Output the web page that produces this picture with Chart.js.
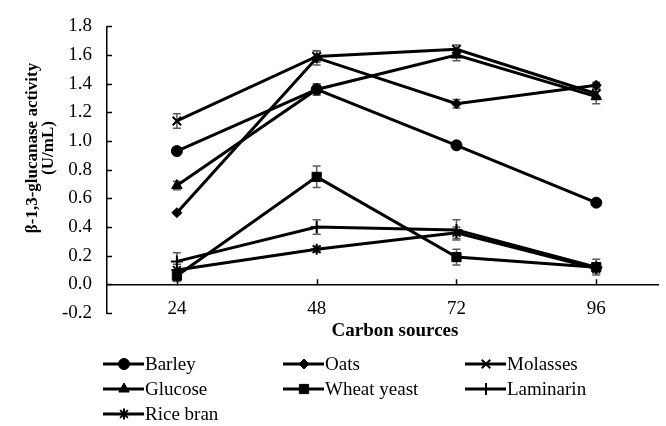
<!DOCTYPE html>
<html>
<head>
<meta charset="utf-8">
<script src="https://cdn.jsdelivr.net/npm/chart.js@4.4.1/dist/chart.umd.min.js"></script>
<style>
    html, body { margin: 0; padding: 0; background: #fff; overflow: hidden; }
    #mon-canvas { position: relative; width: 666px; height: 426px; }
</style>
</head>
<body>
<div id="mon-canvas"><canvas id="myChart"></canvas></div>
<script>
//les variables (heures)
var heures = [24, 48, 72, 96];
var xTicks = [24, 48, 72, 96];
var yMin = -0.2, yMax = 1.8, yPas = 0.2;

var noms = ['Barley', 'Oats', 'Molasses', 'Glucose', 'Wheat yeast', 'Laminarin', 'Rice bran'];
var barley = [0.93, 1.36, 0.97, 0.57];
var oats = [0.50, 1.58, 1.26, 1.39];
var molasses = [1.14, 1.59, 1.64, 1.33];
var glucose = [0.69, 1.36, 1.60, 1.31];
var wheatYeast = [0.06, 0.75, 0.19, 0.12];
var laminarin = [0.16, 0.40, 0.38, 0.12];
var riceBran = [0.10, 0.245, 0.36, 0.11];

//les erreurs
var errBarley = [0.02, 0.03, 0.02, 0.02];
var errOats = [0.01, 0.05, 0.03, 0.02];
var errMolasses = [0.05, 0.04, 0.03, 0.04];
var errGlucose = [0.03, 0.04, 0.04, 0.05];
var errWheatYeast = [0.04, 0.075, 0.055, 0.055];
var errLaminarin = [0.06, 0.05, 0.07, 0.03];
var errRiceBran = [0.04, 0.02, 0.04, 0.03];

var series = [barley, oats, molasses, glucose, wheatYeast, laminarin, riceBran];
var erreurs = [errBarley, errOats, errMolasses, errGlucose, errWheatYeast, errLaminarin, errRiceBran];
var marqueurs = ['circle', 'rectRot', 'crossRot', 'triangle', 'rect', 'cross', 'star'];
var tailles = [5.5, 5, 6, 6, 6.5, 6, 5.5];

var police = "'Liberation Serif', 'Times New Roman', serif";

//les datasets
var datasets = [];
for (var i = 0; i < noms.length; i++) {
    var points = [];
    for (var j = 0; j < heures.length; j++) {
        points.push({x: heures[j], y: series[i][j]});
    }
    datasets.push({
        label: noms[i],
        data: points,
        borderColor: '#000',
        backgroundColor: '#000',
        borderWidth: 3,
        pointStyle: marqueurs[i],
        pointRadius: tailles[i],
        pointBorderWidth: (marqueurs[i] == 'crossRot' || marqueurs[i] == 'cross' || marqueurs[i] == 'star') ? 2 : 1,
        pointBorderColor: '#000',
        pointBackgroundColor: '#000',
        tension: 0
    });
}

//barres d'erreur
var barresErreur = {
    id: 'barresErreur',
    beforeDatasetsDraw: function (chart) {
        var ctx = chart.ctx;
        var sx = chart.scales.x, sy = chart.scales.y;
        ctx.save();
        ctx.strokeStyle = '#5a5a5a';
        ctx.lineWidth = 1.5;
        for (var i = 0; i < series.length; i++) {
            for (var j = 0; j < heures.length; j++) {
                var x = sx.getPixelForValue(heures[j]);
                var haut = sy.getPixelForValue(series[i][j] + erreurs[i][j]);
                var bas = sy.getPixelForValue(series[i][j] - erreurs[i][j]);
                ctx.beginPath();
                ctx.moveTo(x, haut); ctx.lineTo(x, bas);
                ctx.moveTo(x - 4, haut); ctx.lineTo(x + 4, haut);
                ctx.moveTo(x - 4, bas); ctx.lineTo(x + 4, bas);
                ctx.stroke();
            }
        }
        ctx.restore();
    }
};

//graduations interieures, titres et legende
var habillage = {
    id: 'habillage',
    afterDraw: function (chart) {
        var ctx = chart.ctx;
        var sx = chart.scales.x, sy = chart.scales.y;
        var zone = chart.chartArea;
        var y0 = sy.getPixelForValue(0);
        ctx.save();
        ctx.strokeStyle = '#000';
        ctx.lineWidth = 1.5;
        ctx.beginPath();
        sy.ticks.forEach(function (t) {
            var y = Math.round(sy.getPixelForValue(t.value)) + 0.5;
            ctx.moveTo(zone.left, y); ctx.lineTo(zone.left + 5, y);
        });
        xTicks.forEach(function (v) {
            var x = Math.round(sx.getPixelForValue(v)) + 0.5;
            ctx.moveTo(x, y0 + 1); ctx.lineTo(x, y0 - 5);
        });
        ctx.stroke();

        //titre axe x
        ctx.fillStyle = '#000';
        ctx.font = 'bold 19px ' + police;
        ctx.textAlign = 'center';
        ctx.textBaseline = 'middle';
        ctx.fillText('Carbon sources', 395, 331);

        //titre axe y
        ctx.save();
        ctx.translate(0, 148);
        ctx.rotate(-Math.PI / 2);
        ctx.font = 'bold 17px ' + police;
        ctx.fillText('β-1,3-glucanase activity', 0, 33);
        ctx.fillText('(U/mL)', 0, 49);
        ctx.restore();

        //legende
        var colonnes = [103, 283, 465];
        var lignes = [364, 389, 414];
        ctx.font = '19px ' + police;
        ctx.textAlign = 'left';
        for (var k = 0; k < noms.length; k++) {
            var lx = colonnes[k % 3];
            var ly = lignes[Math.floor(k / 3)];
            ctx.strokeStyle = '#000';
            ctx.lineWidth = 3;
            ctx.beginPath();
            ctx.moveTo(lx, ly); ctx.lineTo(lx + 41, ly);
            ctx.stroke();
            ctx.fillStyle = '#000';
            ctx.lineWidth = datasets[k].pointBorderWidth;
            Chart.helpers.drawPoint(ctx, {
                pointStyle: marqueurs[k],
                radius: tailles[k],
                rotation: 0,
                borderWidth: datasets[k].pointBorderWidth
            }, lx + 21, ly);
            ctx.fillText(noms[k], lx + 42, ly + 1);
        }
        ctx.restore();
    }
};

var ctx = document.getElementById('myChart').getContext('2d');
var chart = new Chart(ctx, {
    type: 'line',
    data: { datasets: datasets },
    options: {
        responsive: true,
        maintainAspectRatio: false,
        animation: false,
        layout: { padding: { left: 0, right: 0, top: 16, bottom: 113 } },
        plugins: {
            legend: { display: false },
            tooltip: { enabled: false }
        },
        scales: {
            x: {
                type: 'linear',
                position: { y: 0 },
                min: 12,
                max: 106.6,
                afterBuildTicks: function (scale) {
                    scale.ticks = xTicks.map(function (v) { return {value: v}; });
                },
                afterFit: function (scale) { scale.height = 0; },
                grid: { display: false, drawTicks: false },
                border: { display: true, color: '#000', width: 1.5 },
                ticks: {
                    color: '#000',
                    padding: 13,
                    font: { family: police, size: 19 },
                    autoSkip: false,
                    maxRotation: 0,
                    callback: function (v) { return v; }
                }
            },
            y: {
                min: yMin,
                max: yMax,
                afterFit: function (scale) { scale.width = 107; },
                grid: { display: false, drawTicks: false },
                border: { display: true, color: '#000', width: 1.5 },
                ticks: {
                    stepSize: yPas,
                    color: '#000',
                    padding: 15,
                    font: { family: police, size: 19 },
                    callback: function (v) { return v.toFixed(1); }
                }
            }
        }
    },
    plugins: [barresErreur, habillage]
});
</script>
</body>
</html>
